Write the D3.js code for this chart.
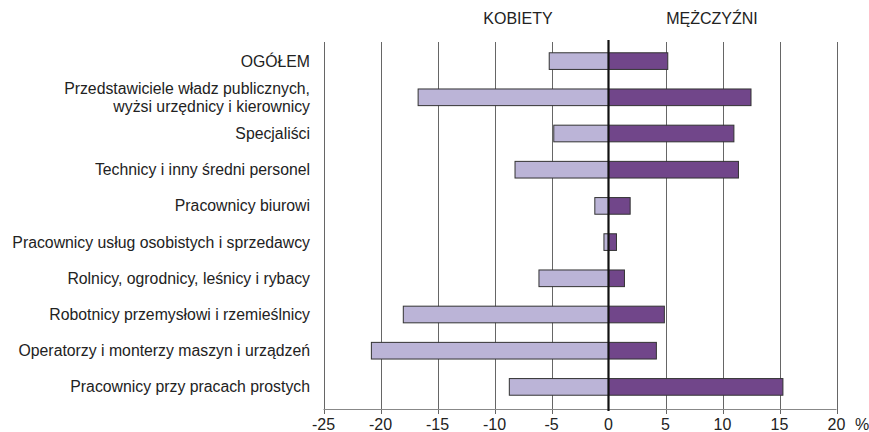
<!DOCTYPE html>
<html>
<head>
<meta charset="utf-8">
<script src="https://cdn.jsdelivr.net/npm/d3@7"></script>
<style>
  body { margin: 0; background: #fff; }
  svg text { font-family: "Liberation Sans", Arial, sans-serif; fill: #222; }
</style>
</head>
<body>
<div id="chart"></div>
<script>
// categories (top to bottom), "\n" splits a label in two lines
var categories = [
    "OGÓŁEM",
    "Przedstawiciele władz publicznych,\nwyżsi urzędnicy i kierownicy",
    "Specjaliści",
    "Technicy i inny średni personel",
    "Pracownicy biurowi",
    "Pracownicy usług osobistych i sprzedawcy",
    "Rolnicy, ogrodnicy, leśnicy i rybacy",
    "Robotnicy przemysłowi i rzemieślnicy",
    "Operatorzy i monterzy maszyn i urządzeń",
    "Pracownicy przy pracach prostych"
];

// women (negative side) and men values, %
var kobiety    = [-5.2, -16.7, -4.8, -8.2, -1.2, -0.4, -6.1, -18.0, -20.8, -8.7];
var mezczyzni  = [ 5.2,  12.5, 11.0, 11.4,  1.9,  0.7,  1.4,   4.9,   4.2, 15.3];

var xTicks = [-25, -20, -15, -10, -5, 0, 5, 10, 15, 20];
var headers = ["KOBIETY", "MĘŻCZYŹNI"];

var width = 869, height = 432;

var svg = d3.select("#chart").append("svg")
    .attr("width", width)
    .attr("height", height);

var x = d3.scaleLinear().domain([-25, 20]).range([323.5, 836.5]);
var y = d3.scaleBand().domain(categories).range([43, 405]).paddingInner(0.54).paddingOuter(0.27);

var axisY = 409;

// vertical grid lines
svg.append("g").selectAll("line")
    .data(xTicks.filter(function(d) { return d !== 0; }))
    .join("line")
    .attr("x1", function(d) { return Math.round(x(d)) + 0.5; })
    .attr("x2", function(d) { return Math.round(x(d)) + 0.5; })
    .attr("y1", 42)
    .attr("y2", axisY + 5)
    .attr("stroke", "#666")
    .attr("stroke-width", 1);

// bottom axis line
svg.append("line")
    .attr("x1", x(-25)).attr("x2", x(20))
    .attr("y1", axisY + 0.5).attr("y2", axisY + 0.5)
    .attr("stroke", "#888");

// tick labels
svg.append("g").selectAll("text")
    .data(xTicks)
    .join("text")
    .attr("x", function(d) { return x(d); })
    .attr("y", 430)
    .attr("text-anchor", "middle")
    .style("font-size", "16px")
    .text(function(d) { return d; });

svg.append("text")
    .attr("x", 855).attr("y", 430)
    .style("font-size", "16px")
    .text("%");

// bars
var bars = svg.append("g");
bars.selectAll("rect.k")
    .data(kobiety)
    .join("rect")
    .attr("class", "k")
    .attr("x", function(d) { return x(d); })
    .attr("y", function(d, i) { return y(categories[i]); })
    .attr("width", function(d) { return x(0) - x(d); })
    .attr("height", y.bandwidth())
    .attr("fill", "#bbb4d7")
    .attr("stroke", "#333")
    .attr("stroke-width", 1);

bars.selectAll("rect.m")
    .data(mezczyzni)
    .join("rect")
    .attr("class", "m")
    .attr("x", x(0))
    .attr("y", function(d, i) { return y(categories[i]); })
    .attr("width", function(d) { return x(d) - x(0); })
    .attr("height", y.bandwidth())
    .attr("fill", "#71468a")
    .attr("stroke", "#333")
    .attr("stroke-width", 1);

// zero line
svg.append("line")
    .attr("x1", x(0)).attr("x2", x(0))
    .attr("y1", 40).attr("y2", axisY + 2)
    .attr("stroke", "#111")
    .attr("stroke-width", 2.2);

// category labels
svg.append("g").selectAll("text")
    .data(categories)
    .join("text")
    .attr("text-anchor", "end")
    .style("font-size", "15.8px")
    .each(function(d) {
        var lines = d.split("\n");
        var cy = y(d) + y.bandwidth() / 2;
        var t = d3.select(this);
        lines.forEach(function(l, j) {
            t.append("tspan")
                .attr("x", 310)
                .attr("y", cy + 5.5 + (j - (lines.length - 1) / 2) * 17.5)
                .text(l);
        });
    });

// headers
svg.append("g").selectAll("text")
    .data(headers)
    .join("text")
    .attr("x", function(d, i) { return i === 0 ? 518 : 712; })
    .attr("y", 24)
    .attr("text-anchor", "middle")
    .style("font-size", "16px")
    .text(function(d) { return d; });
</script>
</body>
</html>
